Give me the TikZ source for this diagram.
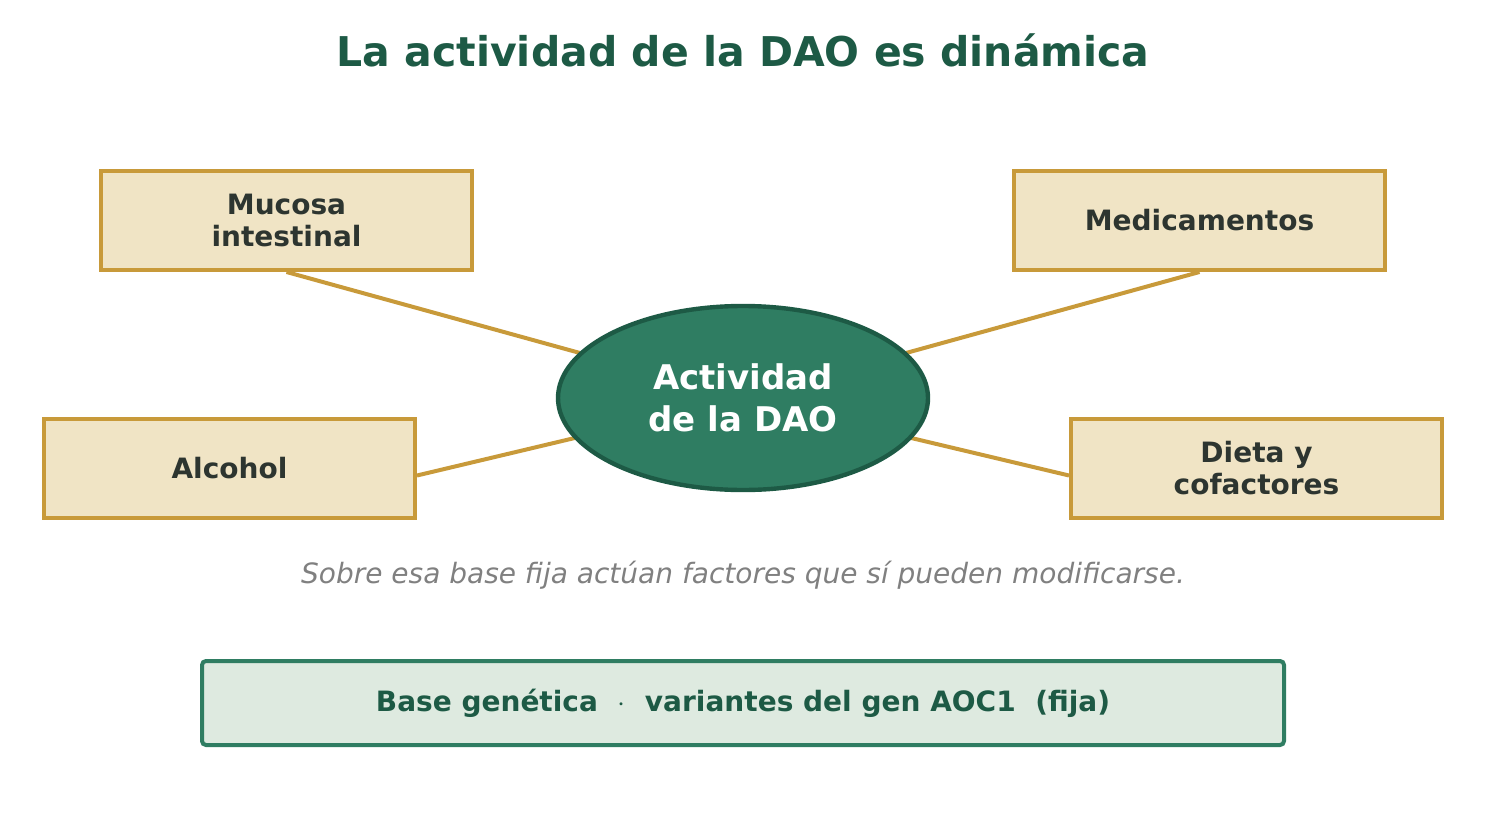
\documentclass[tikz,border=0pt]{standalone}
\usepackage{fontspec}
\setmainfont{DejaVu Sans}
\usetikzlibrary{backgrounds,shapes.geometric}
\definecolor{darkgreen}{HTML}{1D5A45}
\definecolor{midgreen}{HTML}{2F7D62}
\definecolor{paleg}{HTML}{DEEAE0}
\definecolor{sand}{HTML}{F0E4C5}
\definecolor{gold}{HTML}{C89A3A}
\definecolor{ink}{HTML}{2D3530}
\tikzset{
  factor/.style={draw=gold,fill=sand,line width=2pt,minimum width=185.5pt,minimum height=49.5pt,
    align=center,text=ink,font=\bfseries\fontsize{14}{16}\selectfont},
  link/.style={draw=gold,line width=2pt}
}
\begin{document}
\begin{tikzpicture}[x=0.5pt,y=-0.5pt]
\useasboundingbox (0,0) rectangle (1486,818);

\node[text=darkgreen,font=\bfseries\fontsize{20.5}{24}\selectfont] (title) at (743,50) {La actividad de la DAO es dinámica};

\node[draw=darkgreen,fill=midgreen,line width=2.2pt,ellipse,inner sep=0pt,minimum width=185pt,minimum height=92pt,
  text=white,align=center,font=\bfseries\fontsize{17}{21}\selectfont] (dao) at (743,398) {Actividad\\de la DAO};

\node[factor] (mucosa) at (286.5,220.5) {Mucosa\\intestinal};
\node[factor] (medic) at (1199.5,220.5) {Medicamentos};
\node[factor] (alcohol) at (229.5,468.5) {Alcohol};
\node[factor] (dieta) at (1256.5,468.5) {Dieta y\\cofactores};

\begin{scope}[on background layer]
\draw[link] (mucosa.south) -- (dao.center);
\draw[link] (medic.south) -- (dao.center);
\draw[link] ([yshift=-3.5pt]alcohol.east) -- (dao.center);
\draw[link] ([yshift=-3.5pt]dieta.west) -- (dao.center);
\end{scope}

\node[text=gray,font=\itshape\fontsize{14}{16}\selectfont] (note) at (743,575) {Sobre esa base fija actúan factores que sí pueden modificarse.};

\node[draw=midgreen,fill=paleg,line width=2pt,rounded corners=2pt,minimum width=541pt,minimum height=42pt,
  text=darkgreen,font=\bfseries\fontsize{14}{16}\selectfont] (base) at (743,703) {Base genética \ $\cdot$\ \ variantes del gen AOC1 \ (fija)};
\end{tikzpicture}
\end{document}
